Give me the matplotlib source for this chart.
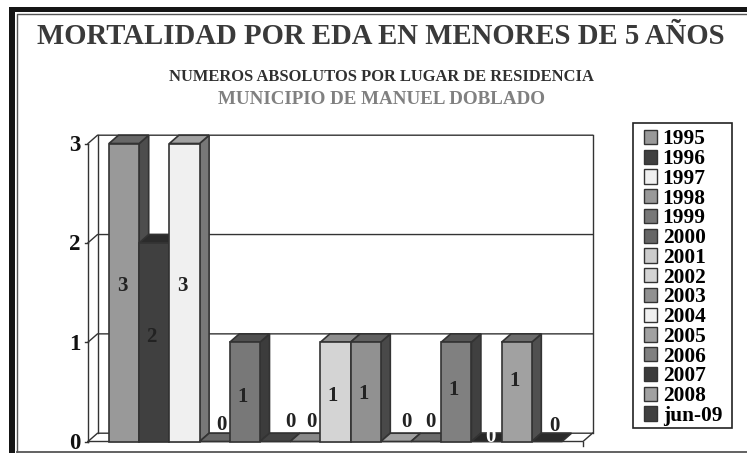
import matplotlib
matplotlib.use("Agg")
import matplotlib.pyplot as plt
from matplotlib.patches import Polygon, Patch, Rectangle

plt.rcParams['font.family'] = ['Liberation Serif', 'DejaVu Serif']
plt.rcParams['font.weight'] = 'bold'

years = ["1995", "1996", "1997", "1998", "1999", "2000", "2001", "2002",
         "2003", "2004", "2005", "2006", "2007", "2008", "jun-09"]
values = [3, 2, 3, 0, 1, 0, 0, 1, 1, 0, 0, 1, 0, 1, 0]
greys = [0.60, 0.25, 0.94, 0.60, 0.47, 0.40, 0.80, 0.83,
         0.57, 0.94, 0.63, 0.50, 0.23, 0.63, 0.25]
y_ticks = [0, 1, 2, 3]

W, H = 747, 453
fig = plt.figure(figsize=(W / 100, H / 100), dpi=100)

# pixel canvas for the frame and the titles
bg = fig.add_axes([0, 0, 1, 1])
bg.set_xlim(0, W)
bg.set_ylim(H, 0)
bg.axis("off")
bg.add_patch(Rectangle((9, 7), W, 5, color="#151515", lw=0))
bg.add_patch(Rectangle((9, 7), 6, H, color="#151515", lw=0))
bg.plot([16.5, 16.5, W], [H, 13.5, 13.5], color="#555555", lw=1)
bg.plot([16.5, W], [451.5, 451.5], color="#555555", lw=1.3)

bg.text(381, 37, "MORTALIDAD POR EDA EN MENORES DE 5 AÑOS", ha="center", va="center",
        fontsize=20.7, color="#3a3a3a")
bg.text(381, 77, "NUMEROS ABSOLUTOS POR LUGAR DE RESIDENCIA", ha="center", va="center",
        fontsize=11.9, color="#303030")
bg.text(381, 100, "MUNICIPIO DE MANUEL DOBLADO", ha="center", va="center",
        fontsize=13.7, color="#808080")

# front plane of the 3d box
left, right, top, bottom = 88, 583, 143.5, 441.5
ax = fig.add_axes([left / W, 1 - bottom / H, (right - left) / W, (bottom - top) / H])
ax.patch.set_alpha(0)
xmin, xmax = -1.195, 15.195
ax.set_xlim(xmin, xmax)
ax.set_ylim(0, 3)
ax.axis("off")

# depth of the box, in data units
dx = 9.5 / ((right - left) / (xmax - xmin))
dy = 8.3 / ((bottom - top) / 3)
line = "#333333"


def face(pts, color, z=3):
    ax.add_patch(Polygon(pts, closed=True, facecolor=color, edgecolor=line, lw=1.2,
                         clip_on=False, zorder=z))


# walls and gridlines
for v in y_ticks:
    ax.plot([xmin, xmin + dx, xmax + dx], [v, v + dy, v + dy], color=line, lw=1,
            clip_on=False, zorder=1)
    ax.plot([xmin - 0.09, xmin], [v, v], color=line, lw=1, clip_on=False, zorder=1)
    ax.text(xmin - 0.24, v - 0.02, str(v), ha="right", va="center", fontsize=16.5,
            color="#111111", clip_on=False)
ax.plot([xmin, xmin], [0, 3], color=line, lw=1, clip_on=False, zorder=1)
ax.plot([xmin + dx, xmin + dx], [dy, 3 + dy], color=line, lw=1, clip_on=False, zorder=1)
ax.plot([xmax + dx, xmax + dx], [dy, 3 + dy], color=line, lw=1, clip_on=False, zorder=1)
ax.plot([xmin, xmax, xmax + dx], [0, 0, dy], color=line, lw=1, clip_on=False, zorder=1)
ax.plot([xmax, xmax], [0, -0.05], color=line, lw=1, clip_on=False, zorder=1)

# bars, left to right so each one covers the side of the one before
for i, (v, g) in enumerate(zip(values, greys)):
    x0, x1 = i - 0.5, i + 0.5
    tone = (g * 0.67,) * 3
    side = (g * 0.5,) * 3
    if v > 0:
        face([(x1, 0), (x1 + dx, dy), (x1 + dx, v + dy), (x1, v)], side)
    face([(x0, v), (x0 + dx, v + dy), (x1 + dx, v + dy), (x1, v)], tone)
    if v > 0:
        face([(x0, 0), (x1, 0), (x1, v), (x0, v)], (g, g, g))

# value labels sit off-centre in the reference (px offsets from bar centre, height in px)
over = fig.add_axes([0, 0, 1, 1])
over.set_xlim(0, W)
over.set_ylim(H, 0)
over.axis("off")
over.set_zorder(2)
label_dx = [-2, -3, -2, 7, -2, 15, 6, -3, -2, 11, 4, -3, 4, -2, 8]
label_y = [286, 337, 286, 425, 397, 422, 422, 396, 394, 422, 422, 390, 437, 381, 426]
for i, v in enumerate(values):
    px = ax.transData.transform((i, 0))[0] + label_dx[i]
    c = "white" if i == 12 else "#222222"
    over.text(px, label_y[i], str(v), ha="center", va="center", fontsize=15, color=c)

# legend, frame drawn apart so its size can be set exactly
bg.add_patch(Rectangle((632.7, 123), 99, 305, facecolor="white", edgecolor="#222222", lw=1.2))
handles = [Patch(facecolor=(g, g, g), edgecolor=line, lw=1) for g in greys]
leg = bg.legend(handles, years, loc="upper left", bbox_to_anchor=(643.5, 129.5),
                bbox_transform=bg.transData, fontsize=15.4, frameon=False,
                ncol=1, handlelength=0.65, handleheight=0.65,
                handletextpad=0.25, labelspacing=-0.012, borderpad=0, borderaxespad=0)
bg.set_zorder(0)
ax.set_zorder(1)

fig.savefig("out.png", dpi=100)
